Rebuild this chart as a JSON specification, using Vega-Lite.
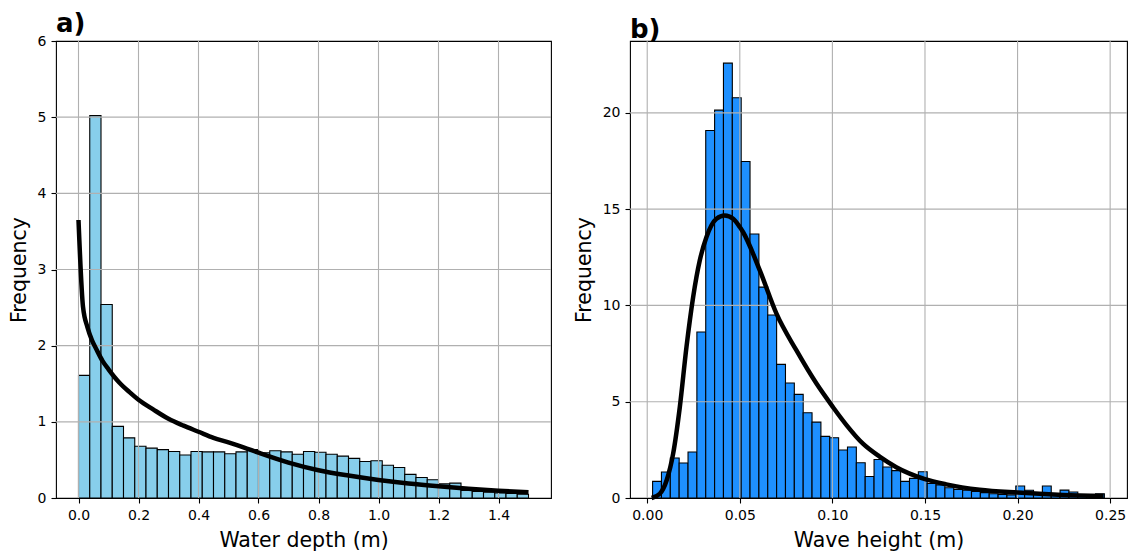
{
  "$schema": "https://vega.github.io/schema/vega-lite/v6.json",
  "background": "white",
  "padding": {"left": 8, "top": 10, "right": 5, "bottom": 2},
  "spacing": 20,
  "config": {
    "font": "DejaVu Sans",
    "view": {"stroke": "black", "strokeWidth": 1.1},
    "axis": {"grid": false, "domain": false, "tickColor": "black", "tickSize": 5, "tickWidth": 1.1, "labelColor": "black", "labelFontSize": 14, "labelPadding": 5, "titleFontSize": 20.5, "titleFontWeight": "normal", "titleColor": "black"},
    "title": {"fontSize": 26, "fontWeight": "bold", "anchor": "start", "frame": "group", "color": "black", "offset": -3}
  },
  "datasets": {
    "depthHist": [
      {"x0": 0.0, "x1": 0.0375, "freq": 1.61},
      {"x0": 0.0375, "x1": 0.075, "freq": 5.02},
      {"x0": 0.075, "x1": 0.1125, "freq": 2.54},
      {"x0": 0.1125, "x1": 0.15, "freq": 0.94},
      {"x0": 0.15, "x1": 0.1875, "freq": 0.79},
      {"x0": 0.1875, "x1": 0.225, "freq": 0.68},
      {"x0": 0.225, "x1": 0.2625, "freq": 0.655},
      {"x0": 0.2625, "x1": 0.3, "freq": 0.635},
      {"x0": 0.3, "x1": 0.3375, "freq": 0.61},
      {"x0": 0.3375, "x1": 0.375, "freq": 0.565},
      {"x0": 0.375, "x1": 0.4125, "freq": 0.61},
      {"x0": 0.4125, "x1": 0.45, "freq": 0.605},
      {"x0": 0.45, "x1": 0.4875, "freq": 0.605},
      {"x0": 0.4875, "x1": 0.525, "freq": 0.58},
      {"x0": 0.525, "x1": 0.5625, "freq": 0.605},
      {"x0": 0.5625, "x1": 0.6, "freq": 0.635},
      {"x0": 0.6, "x1": 0.6375, "freq": 0.595},
      {"x0": 0.6375, "x1": 0.675, "freq": 0.62},
      {"x0": 0.675, "x1": 0.7125, "freq": 0.605},
      {"x0": 0.7125, "x1": 0.75, "freq": 0.575},
      {"x0": 0.75, "x1": 0.7875, "freq": 0.61},
      {"x0": 0.7875, "x1": 0.825, "freq": 0.6},
      {"x0": 0.825, "x1": 0.8625, "freq": 0.575},
      {"x0": 0.8625, "x1": 0.9, "freq": 0.55},
      {"x0": 0.9, "x1": 0.9375, "freq": 0.52},
      {"x0": 0.9375, "x1": 0.975, "freq": 0.48},
      {"x0": 0.975, "x1": 1.0125, "freq": 0.49},
      {"x0": 1.0125, "x1": 1.05, "freq": 0.43},
      {"x0": 1.05, "x1": 1.0875, "freq": 0.4},
      {"x0": 1.0875, "x1": 1.125, "freq": 0.31},
      {"x0": 1.125, "x1": 1.1625, "freq": 0.27},
      {"x0": 1.1625, "x1": 1.2, "freq": 0.24},
      {"x0": 1.2, "x1": 1.2375, "freq": 0.185},
      {"x0": 1.2375, "x1": 1.275, "freq": 0.195},
      {"x0": 1.275, "x1": 1.3125, "freq": 0.1},
      {"x0": 1.3125, "x1": 1.35, "freq": 0.085},
      {"x0": 1.35, "x1": 1.3875, "freq": 0.075},
      {"x0": 1.3875, "x1": 1.425, "freq": 0.065},
      {"x0": 1.425, "x1": 1.4625, "freq": 0.06},
      {"x0": 1.4625, "x1": 1.5, "freq": 0.05}
    ],
    "depthFit": [
      {"x": 0.0, "y": 3.65}, {"x": 0.015, "y": 2.51}, {"x": 0.03, "y": 2.24}, {"x": 0.045, "y": 2.07},
      {"x": 0.06, "y": 1.95}, {"x": 0.08, "y": 1.8}, {"x": 0.1, "y": 1.69}, {"x": 0.135, "y": 1.52},
      {"x": 0.17, "y": 1.39}, {"x": 0.2, "y": 1.29}, {"x": 0.25, "y": 1.16}, {"x": 0.3, "y": 1.04},
      {"x": 0.35, "y": 0.95}, {"x": 0.4, "y": 0.87}, {"x": 0.45, "y": 0.79}, {"x": 0.5, "y": 0.73},
      {"x": 0.55, "y": 0.665}, {"x": 0.6, "y": 0.595}, {"x": 0.7, "y": 0.465}, {"x": 0.8, "y": 0.365},
      {"x": 0.9, "y": 0.295}, {"x": 1.0, "y": 0.237}, {"x": 1.1, "y": 0.19}, {"x": 1.2, "y": 0.153},
      {"x": 1.3, "y": 0.122}, {"x": 1.4, "y": 0.096}, {"x": 1.5, "y": 0.077}
    ],
    "depthGridX": [{"v": 0.0}, {"v": 0.2}, {"v": 0.4}, {"v": 0.6}, {"v": 0.8}, {"v": 1.0}, {"v": 1.2}, {"v": 1.4}],
    "depthGridY": [{"v": 1}, {"v": 2}, {"v": 3}, {"v": 4}, {"v": 5}],
    "waveHist": [
      {"x0": 0.0029, "x1": 0.00768, "freq": 0.865},
      {"x0": 0.00768, "x1": 0.01247, "freq": 1.35},
      {"x0": 0.01247, "x1": 0.01725, "freq": 2.08},
      {"x0": 0.01725, "x1": 0.02204, "freq": 1.82},
      {"x0": 0.02204, "x1": 0.02682, "freq": 2.39},
      {"x0": 0.02682, "x1": 0.0316, "freq": 8.62},
      {"x0": 0.0316, "x1": 0.03639, "freq": 19.08},
      {"x0": 0.03639, "x1": 0.04117, "freq": 20.14},
      {"x0": 0.04117, "x1": 0.04596, "freq": 22.58},
      {"x0": 0.04596, "x1": 0.05074, "freq": 20.78},
      {"x0": 0.05074, "x1": 0.05552, "freq": 17.47},
      {"x0": 0.05552, "x1": 0.06031, "freq": 13.71},
      {"x0": 0.06031, "x1": 0.06509, "freq": 10.95},
      {"x0": 0.06509, "x1": 0.06988, "freq": 9.5},
      {"x0": 0.06988, "x1": 0.07466, "freq": 6.94},
      {"x0": 0.07466, "x1": 0.07944, "freq": 5.97},
      {"x0": 0.07944, "x1": 0.08423, "freq": 5.38},
      {"x0": 0.08423, "x1": 0.08901, "freq": 4.43},
      {"x0": 0.08901, "x1": 0.0938, "freq": 3.94},
      {"x0": 0.0938, "x1": 0.09858, "freq": 3.2},
      {"x0": 0.09858, "x1": 0.10336, "freq": 3.13},
      {"x0": 0.10336, "x1": 0.10815, "freq": 2.49},
      {"x0": 0.10815, "x1": 0.11293, "freq": 2.65},
      {"x0": 0.11293, "x1": 0.11772, "freq": 1.83},
      {"x0": 0.11772, "x1": 0.1225, "freq": 1.12},
      {"x0": 0.1225, "x1": 0.12728, "freq": 2.0},
      {"x0": 0.12728, "x1": 0.13207, "freq": 1.61},
      {"x0": 0.13207, "x1": 0.13685, "freq": 1.42},
      {"x0": 0.13685, "x1": 0.14164, "freq": 0.865},
      {"x0": 0.14164, "x1": 0.14642, "freq": 1.02},
      {"x0": 0.14642, "x1": 0.1512, "freq": 1.36},
      {"x0": 0.1512, "x1": 0.15599, "freq": 0.75},
      {"x0": 0.15599, "x1": 0.16077, "freq": 0.68},
      {"x0": 0.16077, "x1": 0.16556, "freq": 0.53},
      {"x0": 0.16556, "x1": 0.17034, "freq": 0.45},
      {"x0": 0.17034, "x1": 0.17512, "freq": 0.41},
      {"x0": 0.17512, "x1": 0.17991, "freq": 0.34},
      {"x0": 0.17991, "x1": 0.18469, "freq": 0.28},
      {"x0": 0.18469, "x1": 0.18948, "freq": 0.22},
      {"x0": 0.18948, "x1": 0.19426, "freq": 0.19},
      {"x0": 0.19426, "x1": 0.19904, "freq": 0.16},
      {"x0": 0.19904, "x1": 0.20383, "freq": 0.62},
      {"x0": 0.20383, "x1": 0.20861, "freq": 0.4},
      {"x0": 0.20861, "x1": 0.2134, "freq": 0.19},
      {"x0": 0.2134, "x1": 0.21818, "freq": 0.62},
      {"x0": 0.21818, "x1": 0.22296, "freq": 0.22},
      {"x0": 0.22296, "x1": 0.22775, "freq": 0.41},
      {"x0": 0.22775, "x1": 0.23253, "freq": 0.31},
      {"x0": 0.23253, "x1": 0.23732, "freq": 0.17},
      {"x0": 0.23732, "x1": 0.2421, "freq": 0.14},
      {"x0": 0.2421, "x1": 0.24688, "freq": 0.22}
    ],
    "waveFit": [
      {"x": 0.0024, "y": 0.0}, {"x": 0.0068, "y": 0.22}, {"x": 0.0105, "y": 0.92}, {"x": 0.014, "y": 2.3},
      {"x": 0.0176, "y": 4.72}, {"x": 0.0212, "y": 7.84}, {"x": 0.0248, "y": 10.43}, {"x": 0.0284, "y": 12.34},
      {"x": 0.032, "y": 13.55}, {"x": 0.0374, "y": 14.5}, {"x": 0.0419, "y": 14.67}, {"x": 0.0464, "y": 14.5},
      {"x": 0.05, "y": 14.07}, {"x": 0.0518, "y": 13.8}, {"x": 0.0608, "y": 11.82}, {"x": 0.0698, "y": 9.57},
      {"x": 0.0806, "y": 7.66}, {"x": 0.0914, "y": 5.94}, {"x": 0.1003, "y": 4.72}, {"x": 0.1075, "y": 3.8},
      {"x": 0.1165, "y": 2.82}, {"x": 0.1255, "y": 2.15}, {"x": 0.1345, "y": 1.6}, {"x": 0.15, "y": 0.98},
      {"x": 0.1615, "y": 0.71}, {"x": 0.1795, "y": 0.43}, {"x": 0.2, "y": 0.28}, {"x": 0.2244, "y": 0.16},
      {"x": 0.2465, "y": 0.1}
    ],
    "waveGridX": [{"v": 0.0}, {"v": 0.05}, {"v": 0.1}, {"v": 0.15}, {"v": 0.2}, {"v": 0.25}],
    "waveGridY": [{"v": 5}, {"v": 10}, {"v": 15}, {"v": 20}]
  },
  "hconcat": [
    {
      "width": 495,
      "height": 457,
      "title": {"text": "a)"},
      "layer": [
        {
          "data": {"name": "depthHist"},
          "mark": {"type": "rect", "fill": "#87CEEB", "stroke": "black", "strokeWidth": 1.1},
          "encoding": {
            "x": {"field": "x0", "type": "quantitative", "scale": {"domain": [-0.075, 1.575], "nice": false, "zero": false},
                  "axis": {"title": "Water depth (m)", "values": [0, 0.2, 0.4, 0.6, 0.8, 1.0, 1.2, 1.4], "format": ".1f", "titlePadding": 8}},
            "x2": {"field": "x1"},
            "y": {"field": "freq", "type": "quantitative", "scale": {"domain": [0, 6], "nice": false},
                  "axis": {"title": "Frequency", "values": [0, 1, 2, 3, 4, 5, 6], "format": "d", "titlePadding": 8}},
            "y2": {"datum": 0}
          }
        },
        {
          "data": {"name": "depthGridX"},
          "mark": {"type": "rule", "color": "#b0b0b0", "strokeWidth": 1.1},
          "encoding": {"x": {"field": "v", "type": "quantitative", "title": "Water depth (m)"}}
        },
        {
          "data": {"name": "depthGridY"},
          "mark": {"type": "rule", "color": "#b0b0b0", "strokeWidth": 1.1},
          "encoding": {"y": {"field": "v", "type": "quantitative", "title": "Frequency"}}
        },
        {
          "data": {"name": "depthFit"},
          "mark": {"type": "line", "color": "black", "strokeWidth": 4.5, "interpolate": "monotone"},
          "encoding": {
            "x": {"field": "x", "type": "quantitative", "title": "Water depth (m)"},
            "y": {"field": "y", "type": "quantitative", "title": "Frequency"}
          }
        }
      ]
    },
    {
      "width": 497,
      "height": 457,
      "title": {"text": "b)"},
      "layer": [
        {
          "data": {"name": "waveHist"},
          "mark": {"type": "rect", "fill": "#1E90FF", "stroke": "black", "strokeWidth": 1.1},
          "encoding": {
            "x": {"field": "x0", "type": "quantitative", "scale": {"domain": [-0.0093, 0.2591], "nice": false, "zero": false},
                  "axis": {"title": "Wave height (m)", "values": [0, 0.05, 0.1, 0.15, 0.2, 0.25], "format": ".2f", "titlePadding": 8}},
            "x2": {"field": "x1"},
            "y": {"field": "freq", "type": "quantitative", "scale": {"domain": [0, 23.73], "nice": false},
                  "axis": {"title": "Frequency", "values": [0, 5, 10, 15, 20], "format": "d", "titlePadding": 8}},
            "y2": {"datum": 0}
          }
        },
        {
          "data": {"name": "waveGridX"},
          "mark": {"type": "rule", "color": "#b0b0b0", "strokeWidth": 1.1},
          "encoding": {"x": {"field": "v", "type": "quantitative", "title": "Wave height (m)"}}
        },
        {
          "data": {"name": "waveGridY"},
          "mark": {"type": "rule", "color": "#b0b0b0", "strokeWidth": 1.1},
          "encoding": {"y": {"field": "v", "type": "quantitative", "title": "Frequency"}}
        },
        {
          "data": {"name": "waveFit"},
          "mark": {"type": "line", "color": "black", "strokeWidth": 4.5, "interpolate": "monotone"},
          "encoding": {
            "x": {"field": "x", "type": "quantitative", "title": "Wave height (m)"},
            "y": {"field": "y", "type": "quantitative", "title": "Frequency"}
          }
        }
      ]
    }
  ]
}
